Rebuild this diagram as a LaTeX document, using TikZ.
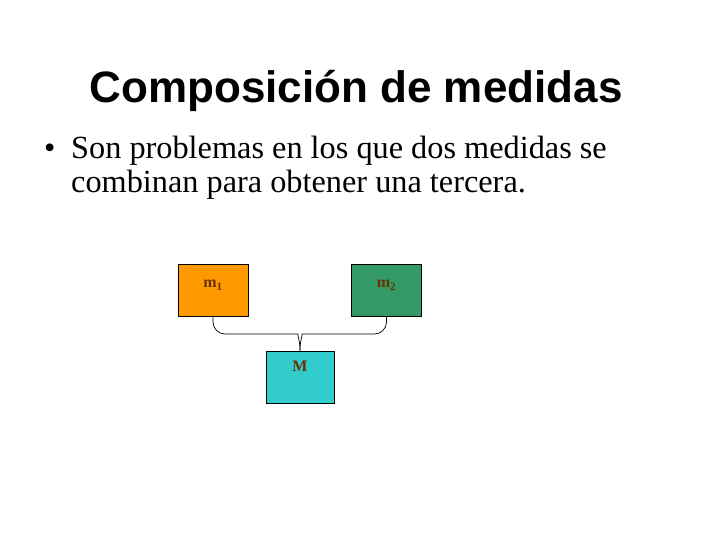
\documentclass[tikz,border=0pt]{standalone}
\usepackage{fontspec}
\setmainfont{Liberation Serif}
\newfontfamily\titlefont{Liberation Sans}
\definecolor{orangebox}{HTML}{FF9900}
\definecolor{greenbox}{HTML}{339966}
\definecolor{cyanbox}{HTML}{33CCCC}
\definecolor{lblcol}{HTML}{663300}
\begin{document}
\begin{tikzpicture}[x=1pt,y=-1pt,
  box/.style={draw=black,line width=0.6pt,minimum width=70pt,minimum height=52pt,inner sep=0pt},
  lbl/.style={anchor=base,text=lblcol,font=\fontsize{16}{18}\selectfont\bfseries,inner sep=0pt},
  txt/.style={anchor=base west,inner sep=0pt,font=\fontsize{32.3}{36}\selectfont},
  brace/.style={draw=black,line width=0.7pt}]
\useasboundingbox (0,0) rectangle (720,540);
\fill[white] (0,0) rectangle (720,540);
\node[anchor=base,inner sep=0pt,font=\titlefont\bfseries\fontsize{44}{50}\selectfont] (title) at (356,103) {Composición de medidas};
\node[txt] (bul) at (44,159) {•};
\node[txt] (l1) at (71,159) {Son problemas en los que dos medidas se};
\node[txt] (l2) at (71,193) {combinan para obtener una tercera.};
\node[box,fill=orangebox] (m1) at (213,290) {};
\node[box,fill=greenbox] (m2) at (386.5,290) {};
\node[box,fill=cyanbox,minimum width=68pt] (M) at (300,377) {};
\node[lbl] (m1t) at ([yshift=-24pt]m1.north) {m\textsubscript{1}};
\node[lbl] (m2t) at ([yshift=-24pt]m2.north) {m\textsubscript{2}};
\node[lbl] (Mt) at ([yshift=-21pt]M.north) {M};
\coordinate (jL) at (286,334);
\coordinate (jR) at (314,334);
\draw[brace,rounded corners=12pt] (m1.south) |- (jL) .. controls +(11,0) and +(0,-11) .. (M.north);
\draw[brace,rounded corners=12pt] (m2.south) |- (jR) .. controls +(-11,0) and +(0,-11) .. (M.north);
\end{tikzpicture}
\end{document}
